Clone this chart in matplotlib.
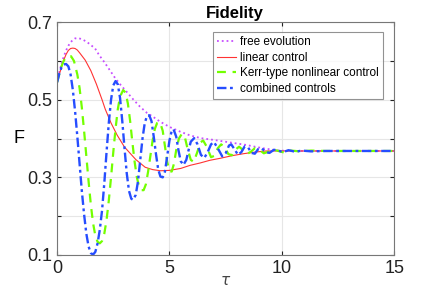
import matplotlib
matplotlib.use("Agg")
import matplotlib.pyplot as plt
import numpy as np

plt.rcParams['font.family'] = ['Liberation Sans', 'DejaVu Sans']

# free evolution
t_free = [0.0, 0.1, 0.2, 0.3, 0.4, 0.5, 0.6, 0.7, 0.8, 0.93, 1.1, 1.3, 1.5, 1.69, 1.87,
          2.1, 2.3, 2.58, 2.8, 3.1, 3.4, 3.69, 4.0, 4.27, 4.6, 5.0, 5.47, 5.92, 6.4,
          6.9, 7.25, 7.8, 8.37, 8.8, 9.26, 9.9, 10.5, 15.0]
F_free = [0.545, 0.572, 0.594, 0.612, 0.627, 0.639, 0.648, 0.654, 0.658, 0.659, 0.656,
          0.650, 0.641, 0.632, 0.615, 0.597, 0.580, 0.556, 0.540, 0.520, 0.500, 0.482,
          0.466, 0.456, 0.443, 0.430, 0.418, 0.408, 0.401, 0.397, 0.394, 0.389, 0.384,
          0.379, 0.374, 0.369, 0.368, 0.368]

# linear control
t_lin = [0.0, 0.1, 0.2, 0.3, 0.4, 0.5, 0.6, 0.7, 0.8, 0.9, 1.0, 1.25, 1.5, 1.75, 2.0,
         2.14, 2.4, 2.67, 3.0, 3.25, 3.5, 3.92, 4.25, 4.6, 5.0, 5.5, 5.92, 6.36, 6.8,
         7.25, 7.8, 8.3, 8.8, 9.3, 10.0, 15.0]
F_lin = [0.545, 0.566, 0.585, 0.603, 0.617, 0.627, 0.632, 0.633, 0.632, 0.628, 0.621,
         0.602, 0.575, 0.540, 0.500, 0.476, 0.440, 0.409, 0.378, 0.362, 0.346, 0.326,
         0.320, 0.317, 0.318, 0.323, 0.331, 0.337, 0.344, 0.349, 0.356, 0.361, 0.365,
         0.368, 0.368, 0.368]

# Kerr-type nonlinear control
t_kerr = [0.0, 0.1, 0.2, 0.3, 0.4, 0.5, 0.62, 0.75, 0.9, 1.0, 1.1, 1.2, 1.3, 1.4, 1.5,
          1.6, 1.7, 1.8, 1.9, 2.0, 2.1, 2.2, 2.3, 2.4, 2.5, 2.6, 2.7, 2.8, 2.94, 3.05,
          3.15, 3.25, 3.35, 3.45, 3.55, 3.65, 3.75, 3.85, 3.95, 4.05, 4.15, 4.25, 4.35,
          4.45, 4.58, 4.7, 4.8, 4.9, 5.0, 5.1, 5.2, 5.3, 5.42, 5.55, 5.68, 5.8, 5.95,
          6.08, 6.22, 6.38, 6.5, 6.65, 6.85, 6.98, 7.15, 7.3, 7.45, 7.62, 7.78, 7.95,
          8.1, 8.28, 8.45, 8.62, 8.8, 9.0, 9.2, 9.4, 9.6, 9.85, 10.1, 10.4, 10.8, 11.3,
          12.0, 15.0]
F_kerr = [0.545, 0.567, 0.587, 0.601, 0.609, 0.612, 0.612, 0.600, 0.565, 0.530, 0.480,
          0.420, 0.355, 0.290, 0.230, 0.182, 0.150, 0.134, 0.130, 0.136, 0.155, 0.190,
          0.240, 0.300, 0.365, 0.425, 0.475, 0.508, 0.525, 0.518, 0.490, 0.445, 0.390,
          0.340, 0.300, 0.276, 0.267, 0.267, 0.282, 0.315, 0.355, 0.395, 0.425, 0.440,
          0.442, 0.420, 0.380, 0.340, 0.316, 0.315, 0.335, 0.370, 0.400, 0.412, 0.405,
          0.375, 0.345, 0.340, 0.362, 0.390, 0.395, 0.380, 0.352, 0.355, 0.375, 0.385,
          0.378, 0.360, 0.357, 0.372, 0.379, 0.370, 0.360, 0.366, 0.375, 0.371, 0.362,
          0.366, 0.372, 0.368, 0.364, 0.369, 0.367, 0.369, 0.368, 0.368]

# combined controls
t_comb = [0.0, 0.1, 0.2, 0.3, 0.4, 0.5, 0.6, 0.7, 0.8, 0.9, 1.0, 1.1, 1.2, 1.3, 1.4,
          1.5, 1.6, 1.7, 1.8, 1.9, 2.0, 2.1, 2.2, 2.3, 2.4, 2.5, 2.6, 2.7, 2.8, 2.9,
          3.0, 3.1, 3.2, 3.3, 3.38, 3.5, 3.6, 3.7, 3.8, 3.9, 4.0, 4.1, 4.2, 4.3, 4.4,
          4.5, 4.6, 4.7, 4.8, 4.9, 5.0, 5.1, 5.18, 5.3, 5.4, 5.5, 5.62, 5.75, 5.85,
          5.95, 6.1, 6.25, 6.4, 6.55, 6.7, 6.85, 6.98, 7.15, 7.35, 7.5, 7.65, 7.75,
          7.9, 8.05, 8.2, 8.35, 8.5, 8.65, 8.8, 8.95, 9.1, 9.3, 9.45, 9.65, 9.85,
          10.05, 10.3, 10.6, 10.9, 11.3, 12.0, 15.0]
F_comb = [0.545, 0.568, 0.584, 0.591, 0.592, 0.586, 0.565, 0.525, 0.470, 0.405, 0.335,
          0.265, 0.205, 0.155, 0.122, 0.105, 0.101, 0.108, 0.130, 0.165, 0.215, 0.285,
          0.365, 0.440, 0.500, 0.537, 0.548, 0.540, 0.505, 0.445, 0.375, 0.310, 0.265,
          0.245, 0.242, 0.255, 0.290, 0.345, 0.400, 0.440, 0.458, 0.460, 0.445, 0.405,
          0.360, 0.320, 0.302, 0.300, 0.315, 0.355, 0.395, 0.420, 0.424, 0.405, 0.370,
          0.342, 0.332, 0.345, 0.370, 0.392, 0.401, 0.385, 0.358, 0.350, 0.365, 0.385,
          0.391, 0.375, 0.354, 0.362, 0.382, 0.385, 0.372, 0.358, 0.365, 0.380, 0.377,
          0.363, 0.361, 0.373, 0.375, 0.365, 0.363, 0.371, 0.369, 0.365, 0.370, 0.366,
          0.369, 0.367, 0.368, 0.368]

fig = plt.figure(figsize=(4.36, 2.87), dpi=100)
ax = fig.add_axes([0.131, 0.1115, 0.773, 0.8115])

ax.plot(t_free, F_free, color=(0.78, 0.3, 1.0), linestyle=':', linewidth=1.3, label='free evolution')
ax.plot(t_lin, F_lin, color=(1.0, 0.2, 0.2), linestyle='-', linewidth=0.8, label='linear control')
ax.plot(t_kerr, F_kerr, color=(0.45, 1.0, 0.0), linestyle=(0, (4, 3)), linewidth=1.6,
        label='Kerr-type nonlinear control')
ax.plot(t_comb, F_comb, color=(0.15, 0.3, 1.0), linestyle=(0, (4, 1.5, 1.2, 1.5)), linewidth=1.7,
        label='combined controls')

ax.set_xlim(0, 15)
ax.set_ylim(0.1, 0.7)
ax.set_xticks([0, 5, 10, 15])
yt = [0.1, 0.2, 0.3, 0.4, 0.5, 0.6, 0.7]
ax.set_yticks(yt)
ax.set_yticklabels(['0.1', '', '0.3', '', '0.5', '', '0.7'])
ax.tick_params(direction='in', length=3, labelsize=13, colors='#222222', top=True, right=True)
for s in ax.spines.values():
    s.set_color('#777777')
    s.set_linewidth(0.8)
ax.grid(True, color='#e6e6e6', linewidth=0.8)
ax.set_axisbelow(True)

ax.set_title('Fidelity', fontsize=12, fontweight='bold', pad=3, x=0.528)
ax.set_xlabel(r'$\tau$', fontsize=11, color='#444444', labelpad=-2)
ax.set_ylabel('F', fontsize=13, rotation=0, labelpad=6, va='center')

leg = ax.legend(loc='upper right', bbox_to_anchor=(0.968, 0.957), fontsize=8.5, frameon=True,
                fancybox=False, edgecolor='#777777', handlelength=1.6, handletextpad=0.4,
                borderpad=0.35, labelspacing=0.3, borderaxespad=0)
leg.get_frame().set_linewidth(0.8)

fig.savefig('out.png', dpi=100)
